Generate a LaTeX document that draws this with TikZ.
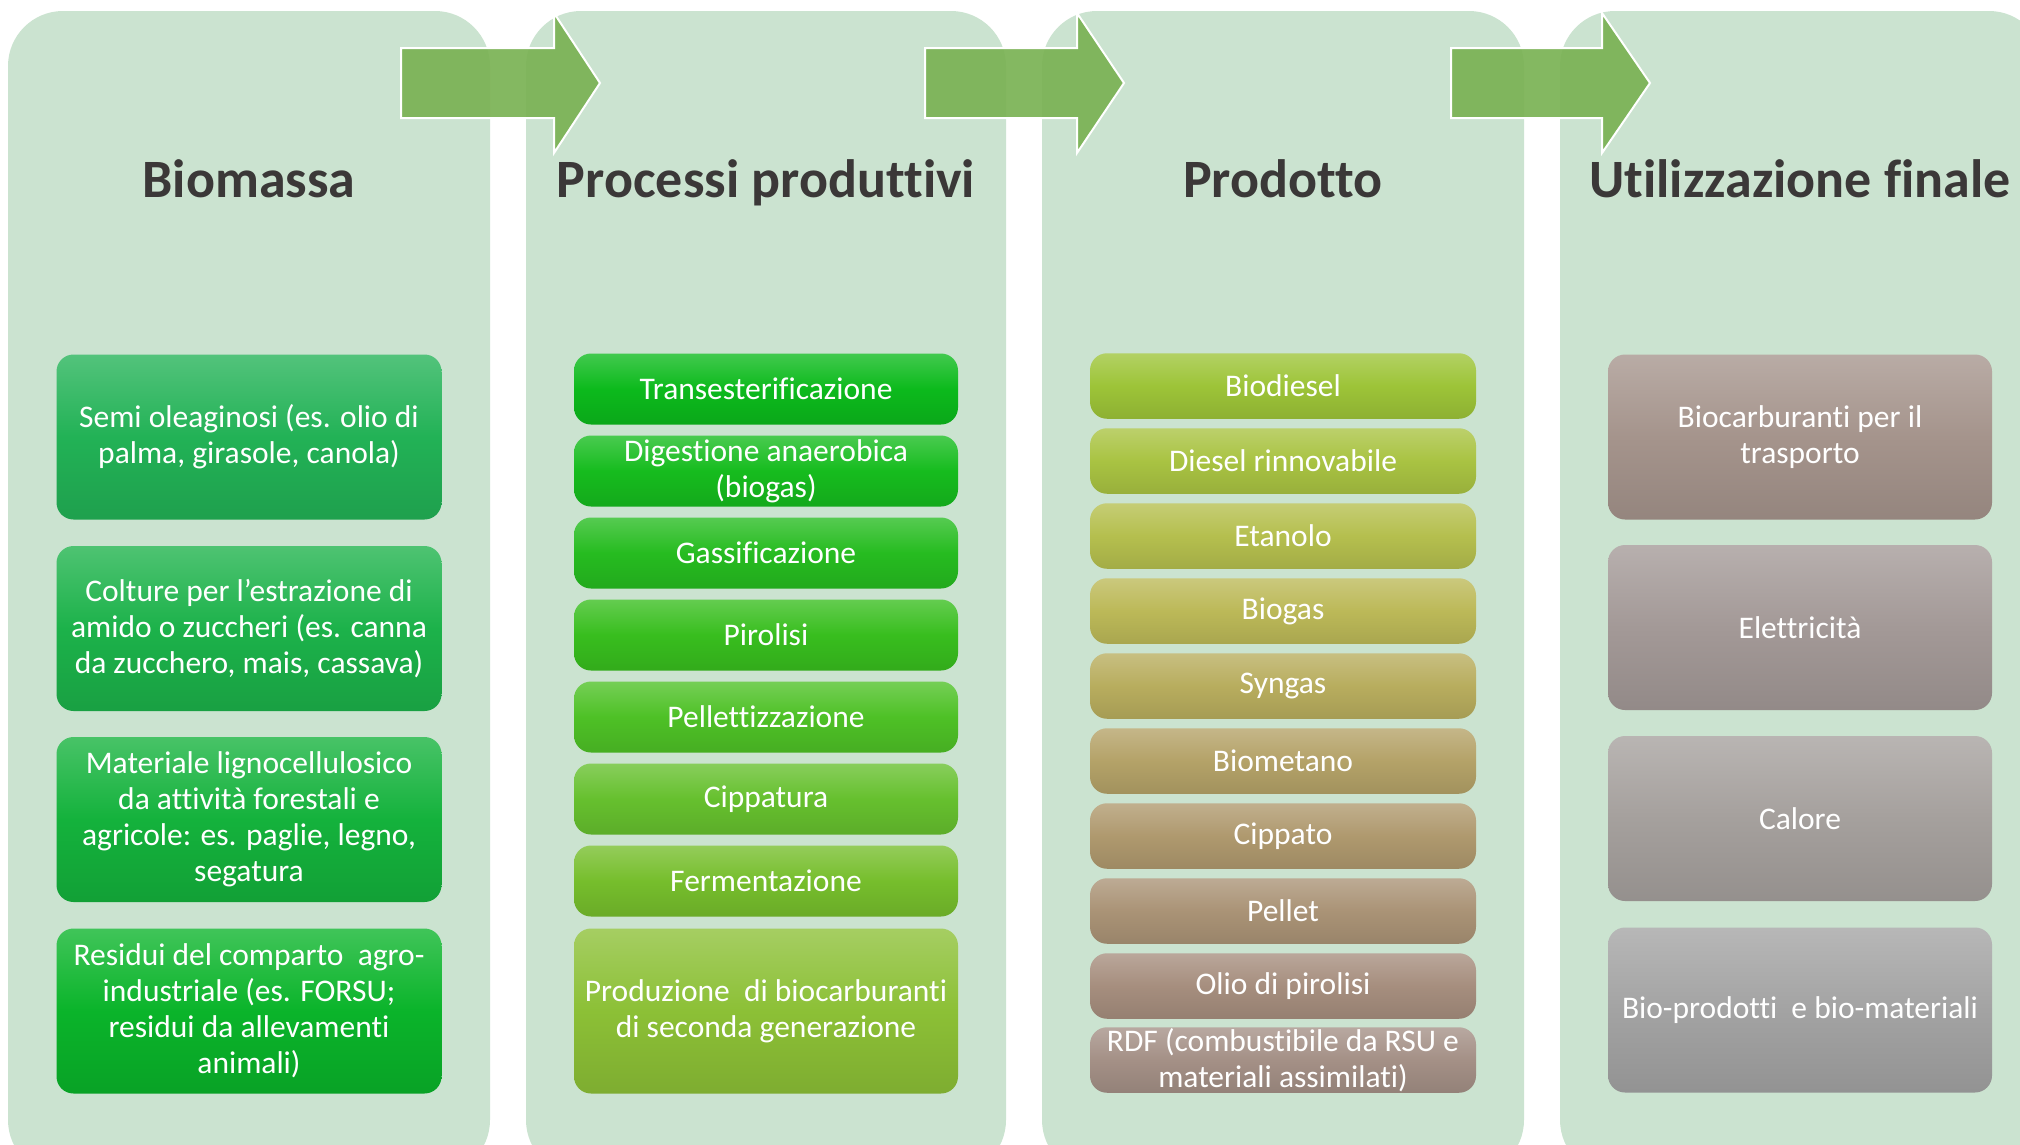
\documentclass[tikz,border=0pt]{standalone}
\usepackage{fontspec}
\setmainfont{Carlito}[Ligatures={NoCommon,NoContextual},Contextuals={NoAlternate},RawFeature={-liga;-clig;-calt}]
\definecolor{panelc}{RGB}{203,227,208}
\definecolor{titlec}{RGB}{59,56,56}
\definecolor{arrowc}{RGB}{122,178,84}
% panel 1
\definecolor{ca1}{RGB}{34,178,86}
\definecolor{ca2}{RGB}{28,178,74}
\definecolor{ca3}{RGB}{20,178,60}
\definecolor{ca4}{RGB}{10,180,42}
% panel 2
\definecolor{cb1}{RGB}{12,186,28}
\definecolor{cb2}{RGB}{22,188,30}
\definecolor{cb3}{RGB}{38,188,32}
\definecolor{cb4}{RGB}{56,190,30}
\definecolor{cb5}{RGB}{78,193,38}
\definecolor{cb6}{RGB}{102,192,46}
\definecolor{cb7}{RGB}{118,190,44}
\definecolor{cb8}{RGB}{140,192,54}
% panel 3
\definecolor{cc1}{RGB}{157,196,56}
\definecolor{cc2}{RGB}{169,195,66}
\definecolor{cc3}{RGB}{181,191,78}
\definecolor{cc4}{RGB}{188,185,88}
\definecolor{cc5}{RGB}{184,173,94}
\definecolor{cc6}{RGB}{180,162,104}
\definecolor{cc7}{RGB}{175,153,110}
\definecolor{cc8}{RGB}{170,147,118}
\definecolor{cc9}{RGB}{166,142,126}
\definecolor{cc10}{RGB}{164,144,134}
% panel 4
\definecolor{cd1}{RGB}{165,148,140}
\definecolor{cd2}{RGB}{163,153,151}
\definecolor{cd3}{RGB}{165,160,157}
\definecolor{cd4}{RGB}{163,163,163}
\begin{document}
\begin{tikzpicture}[x=1pt,y=-1pt,
  panel/.style={fill=panelc, rounded corners=55pt},
  sh/.style={top color=#1!78!white, bottom color=#1!90!black, middle color=#1},
  boxbase/.style={rounded corners=17pt, text=white, align=center, inner sep=0pt,
     font=\fontsize{31.5}{36}\selectfont},
  bigbox/.style={boxbase, sh=#1, minimum width=385pt, minimum height=165pt},
  pbox/.style={boxbase, sh=#1, minimum width=384pt, minimum height=71pt},
  prbox/.style={boxbase, sh=#1, minimum width=386pt, minimum height=65.5pt},
  ttl/.style={anchor=base, text=titlec, font=\fontsize{54}{60}\selectfont\bfseries},
  arr/.style={fill=arrowc, fill opacity=0.92, draw=white, line width=2pt, line join=miter}
]
\useasboundingbox (0,0) rectangle (2020,1144);
\clip (0,0) rectangle (2020,1144);
% panels
\fill[panel] (8,11) rectangle (490,1175);
\fill[panel] (526,11) rectangle (1006,1175);
\fill[panel] (1042,11) rectangle (1524,1175);
\fill[panel] (1560,11) rectangle (2044,1175);
% arrows
\draw[arr] (401,48) -- (554,48) -- (554,13) -- (600,83) -- (554,153) -- (554,118) -- (401,118) -- cycle;
\draw[arr] (925,48) -- (1077,48) -- (1077,13) -- (1124,83) -- (1077,153) -- (1077,118) -- (925,118) -- cycle;
\draw[arr] (1451,48) -- (1602,48) -- (1602,13) -- (1650,83) -- (1602,153) -- (1602,118) -- (1451,118) -- cycle;
% titles
\node[ttl] (t1) at (249,197) {Biomassa};
\node[ttl] (t2) at (766,197) {Processi produttivi};
\node[ttl] (t3) at (1283,197) {Prodotto};
\node[ttl] (t4) at (1800,197) {Utilizzazione finale};
% panel 1
\node[bigbox=ca1] (a1) at (249,437) {Semi oleaginosi (es. olio di\\palma, girasole, canola)};
\node[bigbox=ca2] (a2) at (249,628.5) {Colture per l’estrazione di\\amido o zuccheri (es. canna\\da zucchero, mais, cassava)};
\node[bigbox=ca3] (a3) at (249,819.5) {Materiale lignocellulosico\\da attività forestali e\\agricole: es. paglie, legno,\\segatura};
\node[bigbox=ca4] (a4) at (249,1011) {Residui del comparto\ \ agro-\\industriale (es. FORSU;\\residui da allevamenti\\animali)};
% panel 2
\node[pbox=cb1] (b1) at (766,389) {Transesterificazione};
\node[pbox=cb2] (b2) at (766,471) {Digestione anaerobica\\(biogas)};
\node[pbox=cb3] (b3) at (766,553) {Gassificazione};
\node[pbox=cb4] (b4) at (766,635) {Pirolisi};
\node[pbox=cb5] (b5) at (766,717) {Pellettizzazione};
\node[pbox=cb6] (b6) at (766,799) {Cippatura};
\node[pbox=cb7] (b7) at (766,881) {Fermentazione};
\node[boxbase, sh=cb8, minimum width=384pt, minimum height=165pt] (b8) at (766,1011) {Produzione\ \ di biocarburanti\\di seconda generazione};
% panel 3
\node[prbox=cc1] (c1) at (1283,386) {Biodiesel};
\node[prbox=cc2] (c2) at (1283,461) {Diesel rinnovabile};
\node[prbox=cc3] (c3) at (1283,536) {Etanolo};
\node[prbox=cc4] (c4) at (1283,611) {Biogas};
\node[prbox=cc5] (c5) at (1283,686) {Syngas};
\node[prbox=cc6] (c6) at (1283,761) {Biometano};
\node[prbox=cc7] (c7) at (1283,836) {Cippato};
\node[prbox=cc8] (c8) at (1283,911) {Pellet};
\node[prbox=cc9] (c9) at (1283,986) {Olio di pirolisi};
\node[prbox=cc10] (c10) at (1283,1060) {RDF (combustibile da RSU e\\materiali assimilati)};
% panel 4
\node[bigbox=cd1, minimum width=384pt] (d1) at (1800,437) {Biocarburanti per il\\trasporto};
\node[bigbox=cd2, minimum width=384pt] (d2) at (1800,627.5) {Elettricità};
\node[bigbox=cd3, minimum width=384pt] (d3) at (1800,818.5) {Calore};
\node[bigbox=cd4, minimum width=384pt] (d4) at (1800,1010) {Bio-prodotti\ \ e bio-materiali};
\end{tikzpicture}
\end{document}
